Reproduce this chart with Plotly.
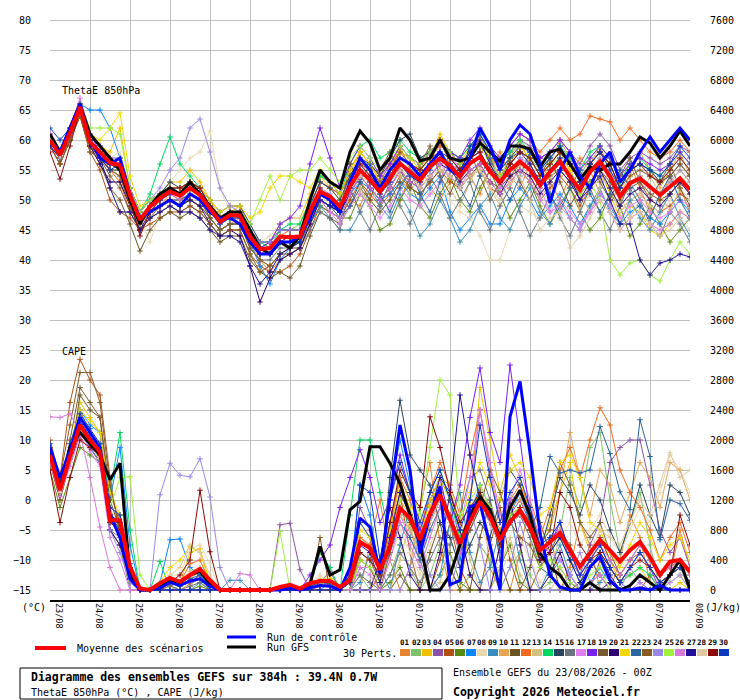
import plotly.graph_objects as go

# time axis: 6-hourly steps over 384h, starting 23/08 00Z
hours = list(range(0, 385, 6))
day_ticks = list(range(0, 385, 24))
day_labels = ['23/08', '24/08', '25/08', '26/08', '27/08', '28/08', '29/08', '30/08', '31/08',
              '01/09', '02/09', '03/09', '04/09', '05/09', '06/09', '07/09', '08/09']

theta_ticks = list(range(-15, 81, 5))
cape_ticks = list(range(0, 7601, 400))

pert_names = ['%02d' % i for i in range(1, 31)]
pert_colors = ['#E5832F', '#80C269', '#F0C000', '#8B52A8', '#B25013', '#5A8A10', '#0A85FF', '#E8D8B0',
               '#3A8DBE', '#E5A555', '#6B5422', '#F06A20', '#D4C080', '#00D860', '#274560', '#6A7580',
               '#E080F0', '#7A20F0', '#7A5A30', '#300070', '#F0D800', '#2A65A0', '#8A5A25', '#9A88E8',
               '#A0F040', '#D878D8', '#20109A', '#E0C8A0', '#8A0A0A', '#0A3AC0']

# ThetaE 850hPa (°C)
theta_mean = [60.0, 57.5, 61.2, 65.5, 59.7, 58.0, 56.2, 55.8, 50.8, 46.7, 48.9, 50.3, 51.4, 50.7, 52.0,
              50.8, 48.6, 46.4, 47.5, 47.4, 43.9, 41.8, 42.0, 43.9, 43.8, 43.9, 48.2, 51.4, 50.6, 48.9,
              52.2, 55.0, 53.3, 51.4, 53.6, 56.1, 54.7, 53.3, 55.6, 56.9, 55.7, 53.9, 56.1, 57.2, 54.7,
              53.0, 55.0, 56.4, 55.0, 52.5, 54.7, 56.4, 53.9, 51.7, 54.7, 56.4, 53.9, 50.6, 52.8, 53.6,
              52.2, 50.8, 52.2, 53.6, 51.7]
theta_ctrl = [60, 58, 62, 66, 60, 57, 56, 57, 51, 47, 48, 49, 50, 49, 51, 50, 48, 47, 47, 46,
              43, 41, 41, 43, 43, 44, 47, 51, 50, 48, 53, 57, 55, 52, 55, 57, 56, 54, 56, 58,
              55, 54, 57, 62, 59, 55, 60, 62.5, 61, 56, 49.5, 55, 58, 54, 52, 56, 58, 53, 55, 58,
              60.5, 58, 60, 62, 60]
theta_gfs = [61, 58, 62, 66, 61, 59, 57, 55, 50, 46, 49, 51, 52, 51, 53, 51, 49, 47, 48, 48,
             45, 42, 41, 43, 42, 44, 50, 55, 53, 52, 58, 61.5, 59.5, 55, 57, 62, 60, 56.5, 57, 60,
             57, 56.5, 57, 59.5, 58, 56.5, 59, 59, 58.5, 55.5, 58, 58.5, 56, 53.5, 55.5, 55, 56, 56, 58, 60.5,
             59.5, 57, 59, 61.5, 59]

theta_p01 = [60, 57, 61, 65, 59, 57, 55, 54, 49, 46, 48, 50, 50, 49, 50, 49, 47, 45, 46, 46, 42, 40, 38, 40, 41,
             42, 47, 50, 49, 48, 50, 49, 53, 55, 51, 50, 54, 56, 52, 50, 53, 57, 54, 51, 55, 58, 54, 52, 56, 57,
             53, 50, 54, 57, 55, 51, 49, 53, 56, 52, 48, 50, 54, 52, 48]
theta_p02 = [61, 58, 62, 66, 61, 59, 57, 57, 52, 48, 50, 51, 52, 51, 53, 52, 49, 47, 47, 48, 45, 43, 43, 45, 45,
             46, 50, 54, 53, 51, 55, 58, 56, 54, 56, 59, 57, 56, 58, 60, 58, 57, 59, 60, 57, 56, 58, 59, 57, 55,
             57, 59, 56, 54, 57, 59, 57, 53, 55, 56, 55, 53, 55, 57, 55]
theta_p03 = [60, 58, 62, 65, 61, 59, 58, 62, 52, 48, 50, 51, 53, 53, 55, 53, 50, 47, 48, 49, 45, 43, 43, 46, 47,
             47, 51, 54, 52, 50, 54, 58, 56, 53, 55, 59, 57, 55, 57, 61, 58, 56, 59, 60, 56, 53, 56, 59, 57, 54,
             56, 58, 55, 51, 53, 55, 51, 47, 49, 48, 45, 44, 46, 48, 47]
theta_p04 = [59, 57, 60, 65, 60, 58, 56, 55, 50, 47, 49, 51, 52, 52, 53, 52, 49, 47, 48, 48, 44, 42, 43, 45, 45,
             45, 49, 53, 52, 51, 54, 57, 55, 53, 56, 58, 57, 56, 58, 59, 58, 57, 59, 60, 58, 56, 58, 60, 59, 57,
             58, 60, 58, 56, 59, 61, 59, 55, 57, 58, 57, 56, 57, 59, 58]
theta_p05 = [59, 56, 60, 64, 58, 55, 50, 48, 47, 45, 46, 47, 48, 48, 49, 48, 46, 44, 45, 45, 41, 39, 38, 38, 39,
             41, 45, 49, 48, 47, 50, 53, 51, 49, 51, 54, 52, 51, 53, 55, 53, 52, 54, 55, 52, 51, 53, 55, 53, 50,
             52, 54, 52, 49, 52, 54, 52, 48, 50, 51, 49, 48, 49, 51, 50]
theta_p06 = [60, 57, 61, 65, 59, 57, 55, 55, 50, 46, 48, 49, 50, 49, 50, 49, 47, 45, 46, 46, 43, 41, 41, 43, 43,
             43, 46, 49, 48, 47, 47, 51, 49, 45, 46, 50, 53, 49, 47, 51, 54, 50, 48, 52, 55, 51, 47, 50, 53, 49,
             46, 49, 52, 48, 45, 47, 51, 49, 44, 46, 49, 46, 43, 45, 47]
theta_p07 = [60, 58, 62, 66, 65, 65, 62, 57, 52, 47, 49, 50, 51, 50, 52, 51, 48, 46, 47, 47, 43, 39, 36, 40, 42,
             43, 47, 50, 49, 48, 51, 53, 52, 50, 51, 53, 51, 50, 52, 54, 48, 45, 47, 49, 46, 46, 50, 52, 50, 47,
             49, 51, 49, 46, 49, 51, 49, 46, 48, 49, 47, 46, 48, 50, 48]
theta_p08 = [60, 57, 61, 65, 60, 58, 57, 58, 52, 47, 43, 48, 53, 55, 57, 58, 61.5, 52, 48, 48, 44, 43, 44, 46, 47,
             47, 49, 51, 49, 47, 49, 51, 50, 48, 50, 52, 50, 49, 51, 52, 50, 48, 47, 44, 40, 40, 45, 49, 48, 47,
             50, 53, 51, 48, 51, 54, 52, 48, 50, 51, 49, 48, 50, 52, 50]
theta_p09 = [61, 58, 61, 66, 60, 58, 56, 55, 50, 47, 48, 49, 50, 50, 51, 50, 48, 46, 47, 47, 43, 41, 41, 43, 43,
             43, 46, 49, 47, 45, 45, 48, 52, 49, 47, 51, 48, 44, 46, 50, 47, 43, 45, 49, 51, 47, 45, 49, 52, 48,
             46, 50, 47, 45, 49, 52, 48, 46, 50, 47, 45, 48, 51, 47, 44]
theta_p10 = [60, 57, 61, 65, 59, 57, 56, 55, 49, 46, 48, 49, 51, 50, 51, 50, 47, 45, 46, 47, 43, 40, 39, 41, 42,
             42, 46, 50, 49, 48, 53, 57, 54, 51, 56, 59, 55, 52, 56, 60, 56, 53, 57, 61, 57, 54, 57, 60, 56, 53,
             56, 60, 57, 53, 56, 59, 55, 51, 54, 58, 55, 52, 55, 58, 54]
theta_p11 = [59, 56, 60, 64, 59, 56, 52, 50, 46, 41.5, 45, 47, 48, 47, 48, 47, 45, 43, 44, 44, 40, 38, 37, 38, 37,
             39, 44, 48, 47, 46, 49, 52, 50, 48, 50, 53, 52, 51, 53, 55, 54, 52, 54, 56, 53, 52, 54, 56, 55, 52,
             54, 55, 53, 51, 53, 55, 53, 50, 52, 53, 51, 50, 51, 53, 51]
theta_p12 = [60, 58, 61, 65, 60, 58, 55, 53, 48, 47, 49, 50, 51, 51, 52, 51, 48, 46, 47, 47, 44, 42, 42, 44, 45,
             45, 49, 53, 52, 51, 55, 58, 56, 54, 56, 58, 57, 56, 57, 59, 58, 56, 58, 59, 57, 56, 59, 61, 60, 58,
             60, 62, 60, 61, 64, 63.5, 63, 60, 62, 60, 58, 57, 58, 60, 58]
theta_p13 = [60, 57, 61, 65, 60, 58, 56, 56, 51, 48, 50, 51, 52, 51, 52, 51, 49, 47, 48, 48, 45, 43, 42, 44, 44,
             44, 48, 51, 50, 49, 54, 52, 49, 53, 57, 54, 51, 55, 58, 55, 52, 49, 53, 56, 52, 49, 52, 56, 54, 50,
             53, 57, 55, 51, 48, 52, 55, 51, 47, 50, 54, 51, 48, 52, 55]
theta_p14 = [60, 57, 61, 65, 60, 58, 56, 55, 51, 48, 51, 56, 60.5, 56, 54, 52, 49, 47, 48, 48, 45, 43, 42, 45, 46,
             46, 50, 54, 53, 51, 56, 59, 60, 57, 58, 60, 58, 57, 58, 60, 58, 57, 59, 61, 58, 56, 58, 60, 58, 55,
             57, 59, 57, 55, 58, 59, 57, 53, 56, 57, 55, 54, 56, 58, 56]
theta_p15 = [60, 58, 61, 65, 60, 58, 56, 57, 52, 48, 50, 51, 53, 52, 53, 52, 50, 48, 49, 49, 46, 43, 43, 45, 45,
             45, 49, 53, 52, 50, 54, 57, 56, 54, 57, 60, 61, 57, 58, 60, 58, 56, 58, 59, 57, 55, 57, 58, 57, 54,
             56, 58, 56, 53, 56, 58, 56, 52, 55, 56, 55, 53, 54, 56, 54]
theta_p16 = [60, 57, 60, 65, 59, 57, 55, 55, 50, 46, 48, 49, 50, 49, 50, 49, 47, 45, 46, 46, 42, 40, 40, 42, 42,
             42, 45, 48, 47, 45, 52, 48, 45, 49, 53, 49, 46, 50, 54, 51, 47, 50, 53, 48, 45, 49, 52, 48, 44, 47,
             51, 47, 44, 48, 52, 48, 45, 49, 53, 50, 46, 44, 48, 46, 43]
theta_p17 = [61, 58, 62, 66, 61, 59, 57, 56, 51, 47, 49, 50, 52, 51, 52, 51, 48, 46, 47, 47, 43, 41, 42, 44, 44,
             44, 47, 50, 48, 46, 49, 51, 49, 47, 49, 52, 50, 49, 51, 53, 58, 55, 57, 58, 55, 52, 55, 57, 55, 52,
             48, 50, 48, 46, 48, 51, 49, 47, 49, 50, 48, 47, 48, 50, 49]
theta_p18 = [60, 58, 62, 66, 61, 58, 57, 56, 52, 48, 50, 51, 52, 52, 53, 52, 49, 47, 48, 48, 44, 42, 43, 46, 47,
             49, 56, 62, 57, 52, 56, 59, 57, 54, 56, 59, 57, 56, 58, 60, 58, 57, 60, 62, 59, 57, 59, 61, 60, 57,
             58, 60, 58, 55, 57, 59, 57, 54, 56, 57, 56, 55, 56, 58, 56]
theta_p19 = [60, 57, 60, 65, 59, 57, 54, 52, 48, 45, 47, 49, 50, 50, 51, 50, 47, 45, 46, 46, 42, 40, 39, 41, 41,
             42, 46, 50, 49, 48, 56, 53, 50, 55, 58, 55, 52, 56, 59, 54, 51, 55, 58, 54, 50, 53, 57, 53, 50, 54,
             57, 53, 49, 52, 56, 53, 50, 54, 57, 53, 50, 53, 56, 52, 49]
theta_p20 = [60, 57, 61, 65, 59, 56, 53, 53, 49, 45, 48, 49, 50, 49, 50, 49, 46, 44, 45, 44, 39, 33, 37, 40, 41,
             42, 46, 50, 49, 48, 51, 54, 52, 50, 52, 55, 53, 52, 54, 56, 55, 53, 55, 56, 53, 51, 54, 55, 54, 51,
             53, 55, 53, 50, 53, 55, 52, 49, 51, 52, 50, 49, 51, 53, 51]
theta_p21 = [60, 58, 62, 66, 61, 60, 62, 64.5, 54, 49, 50, 51, 52, 52, 53, 52, 50, 48, 49, 49, 47, 48, 52, 54, 54,
             53, 52, 55, 53, 51, 55, 58, 56, 53, 55, 58, 57, 55, 57, 60, 57, 55, 58, 60, 57, 55, 57, 59, 57, 54,
             56, 58, 55, 52, 55, 57, 54, 51, 53, 54, 52, 51, 53, 55, 53]
theta_p22 = [60, 58, 61, 65, 60, 58, 56, 56, 52, 48, 50, 51, 52, 51, 52, 51, 49, 47, 47, 47, 43, 41, 41, 43, 43,
             43, 47, 50, 49, 47, 49, 53, 56, 51, 48, 52, 55, 51, 48, 53, 56, 52, 49, 54, 57, 53, 50, 54, 58, 55,
             51, 48, 52, 55, 51, 48, 51, 55, 52, 49, 47, 51, 54, 50, 47]
theta_p23 = [59, 56, 60, 64, 58, 57, 55, 54, 49, 45, 47, 48, 49, 48, 49, 48, 46, 44, 45, 45, 41, 38, 39, 41, 42,
             43, 47, 51, 50, 49, 53, 56, 55, 53, 55, 58, 56, 55, 57, 58, 56, 55, 57, 58, 55, 54, 56, 58, 57, 54,
             56, 58, 56, 53, 56, 58, 56, 52, 54, 55, 54, 53, 54, 56, 54]
theta_p24 = [60, 58, 62, 66, 61, 59, 57, 57, 52, 48, 50, 52, 55, 57, 62, 63.5, 58, 52, 49, 48, 45, 43, 43, 45, 45,
             45, 49, 52, 51, 49, 53, 56, 54, 52, 54, 56, 55, 54, 56, 58, 56, 55, 57, 58, 55, 53, 55, 57, 56, 53,
             55, 57, 54, 52, 55, 57, 54, 51, 53, 54, 52, 51, 53, 55, 53]
theta_p25 = [60, 58, 62, 66, 62, 62, 62, 61, 52, 48, 50, 51, 52, 51, 52, 51, 48, 46, 47, 48, 46, 50, 54, 50, 54,
             55, 55, 57, 55, 53, 57, 59, 57, 55, 57, 59, 57, 56, 58, 60, 58, 56, 58, 59, 56, 54, 56, 58, 57, 54,
             56, 57, 54, 51, 53, 50, 40, 37.5, 39.5, 40, 37.5, 36.5, 40, 43, 41]
theta_p26 = [61, 58, 62, 67, 61, 59, 57, 56, 51, 47, 49, 50, 51, 50, 52, 51, 48, 46, 47, 47, 43, 41, 41, 43, 44,
             44, 47, 50, 48, 47, 51, 54, 52, 50, 52, 55, 53, 52, 54, 56, 54, 52, 55, 56, 53, 51, 53, 55, 53, 50,
             48, 49, 47, 45, 48, 50, 48, 45, 47, 48, 46, 45, 46, 48, 47]
theta_p27 = [59, 57, 61, 65, 60, 57, 52, 48, 48, 45, 47, 48, 49, 48, 48, 47, 45, 44, 44, 43, 39, 36, 38, 41, 42,
             43, 47, 50, 49, 48, 52, 55, 53, 51, 53, 56, 54, 53, 56, 58, 57, 55, 58, 60, 56, 53, 56, 58, 56, 53,
             55, 57, 54, 50, 52, 54, 50, 46, 46, 40, 37.5, 39.5, 40, 41, 40.5]
theta_p28 = [60, 57, 61, 65, 60, 58, 56, 57, 51, 47, 49, 50, 51, 51, 52, 51, 49, 47, 47, 47, 44, 42, 42, 44, 44,
             44, 48, 51, 50, 49, 52, 54, 53, 51, 53, 55, 54, 52, 54, 55, 54, 52, 54, 55, 52, 50, 53, 54, 50, 45,
             47, 48, 42, 44, 47, 50, 48, 45, 47, 48, 46, 44, 45, 47, 45]
theta_p29 = [58, 53.5, 59, 65, 60, 58, 56, 55, 50, 44, 48, 50, 52, 52, 53, 52, 49, 47, 48, 48, 44, 41, 41, 43, 44,
             44, 48, 52, 50, 49, 53, 56, 54, 52, 54, 57, 56, 55, 57, 60, 57, 55, 57, 58, 55, 53, 56, 58, 57, 54,
             56, 58, 56, 53, 56, 58, 56, 52, 55, 56, 54, 53, 55, 57, 55]
theta_p30 = [62, 60, 62, 66, 60, 57, 55, 56, 51, 47, 49, 50, 51, 51, 52, 51, 48, 46, 47, 47, 43, 41, 41, 43, 43,
             43, 47, 51, 50, 48, 52, 55, 53, 51, 53, 56, 54, 53, 55, 57, 56, 54, 59, 61, 58, 55, 57, 59, 58, 55,
             57, 59, 56, 53, 56, 58, 55, 52, 55, 56, 55, 54, 56, 59, 57]

# CAPE (J/kg)
cape_mean = [1800, 1330, 1780, 2200, 2000, 1840, 930, 930, 310, 20, 0, 90, 160, 110, 200,
             280, 130, 0, 0, 0, 0, 0, 0, 40, 70, 20, 90, 120, 120, 40,
             130, 640, 560, 270, 580, 1090, 960, 670, 1020, 1270, 960, 620, 910, 1180, 980,
             670, 910, 1060, 840, 530, 640, 760, 530, 310, 490, 670, 530, 380, 530, 640,
             440, 200, 380, 400, 240]
cape_ctrl = [1900, 1500, 1850, 2300, 2100, 1900, 1000, 700, 150, 0, 0, 30, 100, 60, 120,
             150, 50, 0, 0, 0, 0, 0, 0, 0, 20, 0, 30, 60, 50, 0,
             300, 960, 840, 220, 1240, 2200, 1600, 490, 1000, 1380, 70, 130, 1110, 1160, 600,
             0, 2310, 2780, 1830, 760, 200, 40, 0, 0, 310, 440, 130, 0, 0, 30,
             0, 60, 0, 0, 0]
cape_gfs = [1850, 1350, 1900, 2100, 1950, 1800, 1470, 1690, 200, 0, 0, 40, 120, 90, 200,
            250, 80, 0, 0, 0, 0, 0, 0, 20, 60, 10, 80, 580, 200, 270,
            1070, 1180, 1910, 1910, 1690, 1420, 1000, 620, 0, 0, 200, 600, 1000, 1240, 1070,
            700, 1100, 1330, 1000, 490, 300, 200, 0, 0, 100, 0, 0, 0, 60, 200,
            100, 0, 200, 400, 0]

cape_p01 = [1700, 1200, 1700, 2400, 2100, 1900, 1100, 700, 200, 0, 0, 0, 50, 0, 80, 150, 0, 0, 0, 0, 0, 0, 0, 0, 0,
            0, 0, 50, 100, 0, 0, 0, 600, 1200, 400, 0, 300, 1100, 1700, 600, 0, 0, 900, 1400, 300,
            0, 0, 500, 1200, 800, 200, 0, 300, 900, 600, 0, 0, 400, 1000, 700, 100, 0, 200, 800, 300]
cape_p02 = [1900, 1400, 1800, 2100, 2000, 1700, 800, 600, 100, 0, 0, 0, 0, 60, 100, 200, 0, 0, 0, 0, 0, 0, 0, 0, 0,
            0, 0, 0, 0, 0, 0, 200, 0, 0, 200, 600, 300, 0, 200, 600, 300, 0, 200, 600, 400,
            0, 300, 500, 200, 0, 100, 800, 1500, 1100, 1900, 2100, 1200, 500, 900, 1300, 600, 0, 200, 300, 0]
cape_p03 = [1850, 1300, 1900, 2500, 2300, 2100, 900, 1000, 300, 0, 0, 50, 100, 100, 500, 550, 100, 0, 0, 0, 0, 0, 0, 0, 30,
            0, 40, 80, 150, 0, 0, 400, 300, 100, 600, 1200, 800, 400, 1100, 1500, 1400, 600, 1100, 2700, 2000,
            1300, 1800, 1500, 1000, 600, 900, 1300, 1700, 900, 500, 700, 400, 100, 200, 300, 100, 0, 0, 100, 0]
cape_p04 = [1750, 1300, 1750, 2200, 2000, 1800, 1000, 900, 200, 0, 0, 0, 100, 60, 100, 200, 0, 0, 0, 0, 0, 0, 0, 870, 890,
            270, 0, 100, 250, 0, 200, 1100, 800, 300, 900, 1500, 1000, 600, 900, 1300, 1000, 500, 900, 1300, 1000,
            600, 1000, 1200, 900, 400, 700, 800, 400, 200, 600, 900, 1700, 1900, 2000, 2000, 1400, 800, 500, 700, 300]
cape_p05 = [2000, 1500, 2500, 3075, 2800, 2600, 1500, 700, 100, 0, 0, 0, 0, 0, 0, 0, 0, 0, 0, 0, 0, 0, 0, 0, 0,
            0, 0, 0, 0, 0, 0, 0, 0, 200, 800, 1300, 500, 0, 0, 400, 900, 300, 0, 0, 600,
            1100, 400, 0, 0, 300, 700, 200, 0, 0, 0, 400, 100, 0, 0, 0, 200, 0, 0, 0, 0]
cape_p06 = [1600, 1100, 1500, 1900, 1800, 1700, 800, 600, 0, 0, 0, 0, 0, 0, 0, 50, 0, 0, 0, 0, 0, 0, 0, 0, 0,
            0, 0, 0, 0, 0, 0, 0, 0, 0, 100, 300, 0, 0, 0, 200, 500, 100, 0, 0, 0,
            300, 600, 100, 0, 0, 0, 0, 0, 0, 0, 0, 0, 0, 0, 0, 0, 0, 0, 0, 0]
cape_p07 = [1900, 1400, 1900, 2400, 2200, 2100, 1200, 1900, 600, 0, 0, 100, 670, 680, 300, 200, 0, 0, 0, 0, 0, 0, 0, 0, 0,
            0, 0, 0, 100, 0, 200, 1400, 1000, 200, 1300, 2000, 1400, 700, 1300, 1600, 1200, 400, 1000, 1400, 1100,
            500, 1000, 1300, 900, 300, 200, 400, 200, 0, 100, 300, 100, 0, 0, 0, 0, 0, 0, 0, 0]
cape_p08 = [1800, 1300, 1750, 2100, 1900, 1700, 900, 800, 300, 0, 0, 100, 200, 200, 550, 600, 350, 0, 0, 0, 0, 0, 0, 0, 0,
            0, 100, 200, 100, 0, 100, 400, 300, 100, 400, 800, 500, 200, 600, 900, 700, 300, 600, 900, 500,
            200, 500, 700, 400, 100, 300, 700, 900, 600, 800, 1000, 700, 500, 800, 1100, 900, 1300, 1800, 1600, 1300]
cape_p09 = [1850, 1350, 1800, 2200, 2000, 1800, 900, 800, 200, 0, 0, 0, 0, 0, 0, 100, 0, 0, 130, 130, 0, 0, 0, 0, 0,
            0, 0, 0, 0, 0, 0, 100, 500, 300, 0, 600, 1100, 400, 0, 200, 900, 1300, 500, 100, 300,
            800, 1000, 400, 0, 0, 300, 600, 200, 0, 0, 100, 300, 100, 0, 0, 0, 100, 0, 0, 0]
cape_p10 = [1800, 1350, 1800, 2300, 2100, 1900, 1000, 900, 300, 0, 0, 0, 100, 50, 150, 250, 50, 0, 0, 0, 0, 0, 0, 0, 0,
            0, 60, 100, 80, 0, 100, 700, 600, 300, 700, 1200, 1000, 600, 1100, 1400, 1000, 600, 1000, 1300, 1100,
            800, 1100, 1200, 1000, 600, 800, 1300, 2100, 1500, 1000, 1600, 1400, 900, 1300, 1700, 1500, 1100, 1700, 1600, 1200]
cape_p11 = [1700, 1200, 1700, 2600, 2400, 2300, 1200, 800, 150, 0, 0, 0, 0, 0, 0, 0, 0, 0, 0, 0, 0, 0, 0, 0, 0,
            0, 0, 0, 0, 0, 0, 0, 0, 0, 0, 200, 0, 0, 500, 900, 300, 0, 0, 700, 1200,
            400, 0, 0, 300, 900, 500, 0, 0, 100, 400, 200, 0, 0, 0, 0, 0, 0, 0, 0, 0]
cape_p12 = [1800, 1300, 1700, 2200, 2000, 1800, 900, 800, 250, 0, 0, 50, 150, 100, 350, 400, 100, 0, 0, 0, 0, 0, 0, 0, 0,
            0, 50, 100, 120, 0, 150, 700, 600, 300, 800, 1500, 1200, 800, 1300, 1700, 1400, 1000, 1800, 2400, 1600,
            900, 1200, 1400, 1100, 700, 1100, 1600, 1900, 1500, 2000, 2430, 2200, 1600, 1300, 1100, 800, 400, 700, 900, 500]
cape_p13 = [1750, 1300, 1750, 2150, 1950, 1750, 900, 900, 250, 0, 0, 60, 150, 100, 250, 300, 80, 0, 0, 0, 0, 0, 0, 0, 0,
            0, 80, 150, 100, 0, 0, 200, 100, 0, 0, 400, 900, 300, 0, 100, 600, 1000, 400, 0, 0,
            300, 700, 200, 0, 0, 0, 200, 0, 0, 0, 0, 0, 0, 0, 0, 0, 0, 0, 0, 0]
cape_p14 = [1850, 1400, 1850, 2250, 2050, 1900, 1300, 2100, 800, 0, 0, 380, 0, 0, 0, 0, 0, 0, 0, 0, 0, 0, 0, 0, 0,
            0, 40, 500, 300, 0, 1000, 2000, 2000, 1300, 700, 1100, 900, 700, 1200, 1500, 1200, 700, 1000, 1300, 1000,
            600, 900, 1100, 800, 400, 500, 700, 400, 100, 300, 500, 300, 100, 200, 300, 200, 0, 100, 200, 0]
cape_p15 = [1900, 1450, 1900, 2300, 2100, 1900, 1000, 800, 200, 0, 0, 0, 0, 0, 0, 0, 0, 0, 0, 0, 0, 0, 0, 0, 0,
            0, 0, 0, 0, 0, 0, 900, 700, 200, 1500, 2530, 1800, 1600, 1400, 900, 700, 300, 600, 900, 700,
            1200, 1600, 1400, 900, 500, 1000, 1500, 1300, 1000, 1400, 1200, 800, 500, 900, 1400, 1000, 700, 1400, 1300, 1000]
cape_p16 = [1750, 1300, 1700, 2100, 1900, 1700, 800, 700, 200, 0, 0, 0, 60, 0, 50, 100, 0, 0, 0, 0, 0, 0, 0, 0, 0,
            0, 0, 0, 0, 0, 0, 200, 100, 0, 200, 500, 300, 100, 400, 700, 600, 1000, 1500, 1600, 1200,
            700, 900, 1000, 700, 300, 200, 300, 100, 0, 100, 200, 0, 0, 0, 0, 0, 0, 0, 0, 0]
cape_p17 = [1700, 1250, 1650, 2050, 1850, 1650, 700, 400, 0, 0, 0, 0, 0, 0, 0, 0, 0, 0, 0, 0, 0, 0, 0, 0, 0,
            0, 0, 0, 0, 0, 0, 300, 300, 100, 500, 1000, 700, 400, 900, 1200, 1000, 800, 1500, 2400, 1600,
            900, 1200, 1600, 1200, 600, 500, 400, 200, 0, 100, 200, 0, 0, 0, 100, 0, 0, 100, 200, 0]
cape_p18 = [1900, 1450, 1850, 2250, 2050, 1850, 1000, 900, 300, 0, 0, 0, 0, 0, 0, 0, 0, 0, 0, 0, 0, 0, 0, 0, 0,
            0, 200, 400, 600, 1100, 1500, 1870, 1500, 900, 1200, 1800, 1300, 800, 1200, 1500, 900, 1400, 2300, 2960, 2100,
            1700, 3000, 2000, 1000, 400, 600, 900, 500, 200, 400, 600, 300, 100, 300, 500, 300, 0, 200, 300, 100]
cape_p19 = [1800, 1300, 2000, 2700, 2500, 2300, 1300, 900, 200, 0, 0, 0, 0, 0, 0, 0, 0, 0, 0, 0, 0, 0, 0, 0, 0,
            0, 0, 0, 0, 0, 0, 500, 400, 100, 600, 1100, 900, 600, 1000, 1300, 1000, 600, 900, 1200, 1000,
            700, 1000, 1100, 900, 600, 800, 1700, 1400, 900, 700, 900, 500, 200, 400, 600, 400, 200, 300, 400, 200]
cape_p20 = [1800, 1300, 1700, 2100, 1900, 1700, 800, 600, 150, 0, 0, 0, 0, 0, 0, 0, 0, 0, 0, 0, 0, 0, 0, 0, 0,
            0, 0, 0, 0, 0, 0, 0, 0, 400, 1100, 700, 200, 0, 0, 500, 1300, 800, 200, 0, 0,
            600, 1200, 600, 0, 0, 200, 500, 100, 0, 0, 0, 100, 0, 0, 0, 0, 0, 0, 0, 0]
cape_p21 = [1850, 1400, 1900, 2400, 2250, 2100, 1300, 1000, 300, 0, 0, 100, 300, 400, 580, 500, 100, 0, 0, 0, 0, 0, 0, 0, 0,
            0, 60, 120, 200, 0, 200, 800, 700, 300, 800, 1400, 1100, 700, 1200, 1500, 1200, 900, 1300, 1700, 1400,
            1200, 1600, 1700, 1500, 1000, 1100, 1700, 1800, 1500, 900, 800, 500, 300, 600, 900, 700, 400, 600, 700, 400]
cape_p22 = [1800, 1300, 1750, 2150, 1950, 1800, 900, 900, 300, 0, 0, 40, 100, 50, 150, 200, 50, 0, 0, 0, 0, 0, 0, 0, 0,
            0, 50, 100, 80, 0, 100, 500, 400, 200, 500, 900, 700, 400, 800, 1100, 900, 500, 800, 1100, 900,
            600, 900, 1000, 800, 1100, 1780, 1560, 1600, 1560, 1600, 2180, 1820, 1310, 1070, 2270, 1780, 670, 1200, 1150, 930]
cape_p23 = [1900, 1500, 2200, 2900, 2900, 2500, 1400, 800, 200, 0, 0, 0, 0, 0, 0, 0, 0, 0, 0, 0, 0, 0, 0, 0, 0,
            0, 0, 700, 0, 0, 0, 400, 300, 0, 500, 1000, 800, 500, 900, 1200, 900, 500, 800, 1100, 1600,
            1300, 900, 700, 600, 300, 500, 800, 600, 300, 500, 700, 400, 200, 400, 500, 300, 100, 200, 300, 100]
cape_p24 = [1800, 1300, 1750, 2100, 1900, 1700, 800, 500, 100, 0, 0, 1270, 1690, 1530, 1510, 1750, 1240, 300, 0, 0, 0, 0, 0, 0, 0,
            0, 0, 0, 0, 0, 0, 0, 0, 0, 0, 0, 300, 700, 200, 0, 0, 500, 1100, 600, 0,
            0, 300, 900, 400, 0, 0, 0, 200, 500, 100, 0, 0, 0, 300, 100, 0, 0, 0, 0, 0]
cape_p25 = [1800, 1350, 1800, 2150, 1950, 1750, 1100, 1500, 1510, 200, 0, 0, 0, 0, 0, 0, 0, 0, 0, 0, 0, 0, 0, 780, 0,
            0, 0, 0, 0, 0, 0, 400, 300, 100, 600, 1200, 1400, 1000, 1900, 2800, 2600, 1000, 1200, 1400, 1100,
            700, 1000, 1100, 800, 300, 400, 300, 100, 0, 200, 300, 0, 0, 0, 0, 0, 0, 0, 0, 0]
cape_p26 = [2310, 2300, 2350, 2100, 1500, 840, 300, 0, 0, 0, 0, 0, 0, 0, 0, 0, 0, 0, 0, 220, 200, 0, 0, 0, 0,
            0, 0, 0, 0, 0, 0, 300, 200, 0, 400, 900, 600, 300, 700, 1100, 900, 500, 1200, 2400, 1700,
            1000, 1200, 1300, 1000, 500, 600, 800, 500, 200, 400, 600, 400, 200, 400, 600, 400, 200, 300, 400, 200]
cape_p27 = [1850, 1400, 1850, 2200, 2000, 1800, 1000, 900, 250, 0, 0, 0, 0, 0, 0, 0, 0, 0, 0, 0, 0, 0, 0, 0, 0,
            0, 0, 0, 0, 0, 200, 600, 500, 100, 700, 1300, 1000, 600, 1000, 1500, 1300, 2600, 1800, 1200, 900,
            600, 900, 1000, 800, 400, 500, 700, 400, 100, 300, 500, 200, 0, 0, 0, 0, 0, 0, 0, 0]
cape_p28 = [1750, 1300, 1700, 2150, 1950, 1750, 900, 800, 250, 0, 0, 80, 200, 300, 600, 500, 200, 0, 0, 0, 0, 0, 0, 0, 0,
            0, 0, 0, 0, 0, 100, 500, 400, 200, 600, 1000, 800, 500, 900, 1200, 900, 600, 900, 1100, 900,
            600, 900, 1000, 800, 500, 600, 800, 500, 300, 500, 800, 700, 600, 900, 1200, 1000, 1400, 1830, 1500, 1600]
cape_p29 = [1600, 900, 1500, 2000, 1900, 1800, 900, 800, 300, 0, 0, 0, 100, 200, 400, 1330, 510, 0, 0, 0, 0, 0, 0, 0, 0,
            0, 0, 0, 0, 0, 100, 500, 400, 200, 900, 1600, 1300, 1100, 2310, 1900, 1300, 900, 1100, 1300, 1000,
            600, 900, 1100, 800, 400, 500, 1300, 1100, 600, 400, 500, 300, 100, 300, 400, 300, 100, 200, 1000, 600]
cape_p30 = [1950, 1500, 1950, 2350, 2150, 1950, 1100, 1000, 350, 0, 0, 0, 0, 0, 0, 0, 0, 0, 0, 0, 0, 0, 0, 0, 0,
            0, 0, 0, 0, 0, 100, 1400, 1300, 400, 1200, 1700, 1300, 900, 1300, 1600, 1200, 800, 1200, 2200, 1500,
            900, 1300, 1500, 1100, 600, 700, 900, 500, 200, 400, 600, 300, 100, 300, 500, 300, 100, 200, 300, 100]

theta_perts = [theta_p01, theta_p02, theta_p03, theta_p04, theta_p05, theta_p06, theta_p07, theta_p08,
               theta_p09, theta_p10, theta_p11, theta_p12, theta_p13, theta_p14, theta_p15, theta_p16,
               theta_p17, theta_p18, theta_p19, theta_p20, theta_p21, theta_p22, theta_p23, theta_p24,
               theta_p25, theta_p26, theta_p27, theta_p28, theta_p29, theta_p30]
cape_perts = [cape_p01, cape_p02, cape_p03, cape_p04, cape_p05, cape_p06, cape_p07, cape_p08,
              cape_p09, cape_p10, cape_p11, cape_p12, cape_p13, cape_p14, cape_p15, cape_p16,
              cape_p17, cape_p18, cape_p19, cape_p20, cape_p21, cape_p22, cape_p23, cape_p24,
              cape_p25, cape_p26, cape_p27, cape_p28, cape_p29, cape_p30]

MONO = 'DejaVu Sans Mono'
GRID = '#C0C0C0'


def px(X):
    # pixel column -> paper x (plot area spans 50..690)
    return (X - 50) / 640.0


def py(Y):
    # pixel row -> paper y (plot area spans 0..600)
    return (600 - Y) / 600.0


def member(xs, ys, color, axis):
    return go.Scatter(x=xs, y=ys, yaxis=axis, mode='lines+markers',
                      line=dict(color=color, width=1),
                      marker=dict(symbol='cross-thin', size=4, line=dict(color=color, width=1)),
                      hoverinfo='skip', showlegend=False)


def bold_line(xs, ys, color, width, axis):
    return go.Scatter(x=xs, y=ys, yaxis=axis, mode='lines',
                      line=dict(color=color, width=width),
                      hoverinfo='skip', showlegend=False)


data = []
for i in range(30):
    data.append(member(hours, theta_perts[i], pert_colors[i], 'y'))
    data.append(member(hours, cape_perts[i], pert_colors[i], 'y2'))

data.append(bold_line(hours, theta_gfs, '#000000', 3, 'y'))
data.append(bold_line(hours, cape_gfs, '#000000', 3, 'y2'))
data.append(bold_line(hours, theta_ctrl, '#0000FF', 3, 'y'))
data.append(bold_line(hours, cape_ctrl, '#0000FF', 3, 'y2'))
data.append(bold_line(hours, theta_mean, '#FF0000', 4, 'y'))
data.append(bold_line(hours, cape_mean, '#FF0000', 4, 'y2'))

annotations = []
shapes = []

# date labels under the axis (rotated)
for h, lab in zip(day_ticks, day_labels):
    annotations.append(dict(x=h, xref='x', y=0, yref='paper', text=lab, textangle=90,
                            showarrow=False, xanchor='center', yanchor='top', xshift=9, yshift=-2,
                            borderpad=0, font=dict(family=MONO, size=8.5, color='black')))

small_txt = [
    ('ThetaE 850hPa', 60, 91),
    ('CAPE', 60, 351),
    ('(°C)', 20, 607),
    ('(J/kg)', 703, 607),
    ('Moyenne des scénarios', 75, 648),
    ('Run de contrôle', 265, 637),
    ('Run GFS', 265, 647),
    ('30 Perts.', 341, 653),
    ('Ensemble GEFS du 23/08/2026 - 00Z', 451, 672),
    ('ThetaE 850hPa (°C) , CAPE (J/kg)', 29, 692),
]
for txt, X, Y in small_txt:
    annotations.append(dict(x=px(X), y=py(Y), xref='paper', yref='paper', text=txt, showarrow=False,
                            xanchor='left', yanchor='middle', font=dict(family=MONO, size=10, color='black')))

big_txt = [
    ('<b>Diagramme des ensembles GEFS sur 384h : 39.4N 0.7W</b>', 29, 677),
    ('<b>Copyright 2026 Meteociel.fr</b>', 451, 692),
]
for txt, X, Y in big_txt:
    annotations.append(dict(x=px(X), y=py(Y), xref='paper', yref='paper', text=txt, showarrow=False,
                            xanchor='left', yanchor='middle', font=dict(family=MONO, size=11.5, color='black')))

# legend line samples
for color, X0, X1, Y, w in [('#FF0000', 35, 66, 648, 4), ('#0000FF', 227, 256, 637, 3),
                            ('#000000', 227, 256, 647, 3)]:
    shapes.append(dict(type='line', xref='paper', yref='paper', x0=px(X0), x1=px(X1), y0=py(Y), y1=py(Y),
                       line=dict(color=color, width=w)))

# perturbation colour boxes
for i in range(30):
    X = 400 + 11 * i
    shapes.append(dict(type='rect', xref='paper', yref='paper', x0=px(X), x1=px(X + 10),
                       y0=py(656), y1=py(649), fillcolor=pert_colors[i], line=dict(width=0)))
    annotations.append(dict(x=px(X + 5), y=py(642), xref='paper', yref='paper', text='<b>%s</b>' % pert_names[i],
                            showarrow=False, xanchor='center', yanchor='middle',
                            font=dict(family=MONO, size=7.5, color='black')))

# title box
shapes.append(dict(type='rect', xref='paper', yref='paper', x0=px(20), x1=px(442), y0=py(699), y1=py(668),
                   line=dict(color='black', width=1), fillcolor='rgba(0,0,0,0)'))

layout = go.Layout(
    width=740, height=700,
    margin=dict(l=50, r=50, t=0, b=100),
    paper_bgcolor='white', plot_bgcolor='white',
    showlegend=False,
    xaxis=dict(range=[0, 384], tickvals=day_ticks, showticklabels=False, ticks='',
               showgrid=True, gridcolor=GRID, gridwidth=1, zeroline=False,
               showline=True, linecolor='black', linewidth=2),
    yaxis=dict(range=[-15 - 10 / 6.0, 80 + 20 / 6.0], tickvals=theta_ticks, ticks='',
               showgrid=True, gridcolor=GRID, gridwidth=1, zeroline=False, showline=False,
               ticklabelstandoff=18, tickfont=dict(family=MONO, size=10, color='black')),
    yaxis2=dict(range=[-400 / 3.0, 23600 / 3.0], tickvals=cape_ticks, ticks='', overlaying='y', side='right',
                showgrid=False, zeroline=False, showline=False,
                ticklabelstandoff=19, tickfont=dict(family=MONO, size=10, color='black')),
    annotations=annotations,
    shapes=shapes,
)

fig = go.Figure(data=data, layout=layout)
fig.write_html("out.html", config={'displayModeBar': False},
               post_script="document.body.style.margin='0';document.body.style.overflow='hidden';")
